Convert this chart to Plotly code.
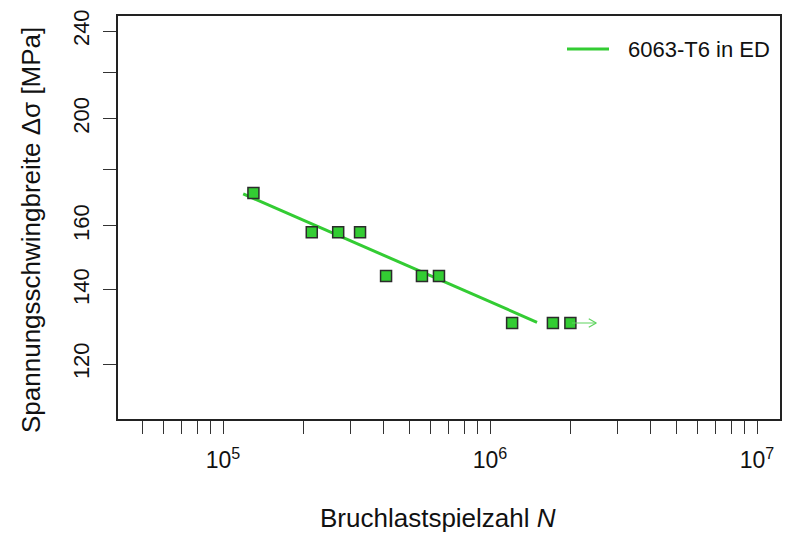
import numpy as np
import plotly.graph_objects as go

# ---- data ----
N_cycles = [1.30e5, 2.15e5, 2.70e5, 3.26e5, 4.08e5, 5.56e5, 6.44e5, 1.21e6, 1.72e6, 2.00e6]
stress_range = [171.3, 157.9, 157.9, 157.9, 144.1, 144.1, 144.1, 130.7, 130.7, 130.7]
runout_N = [2.00e6]
runout_S = [130.7]
runout_arrow_end_N = [2.50e6]
fit_N = [1.19e5, 1.50e6]
fit_S = [171.0, 130.9]
series_name = "6063-T6 in ED"

y_tick_vals = [120, 140, 160, 180, 200, 220, 240]
y_tick_text = ["120", "140", "160", "", "200", "", "240"]
x_tick_vals = [m * 10 ** e for e in (4, 5, 6) for m in range(1, 10)] + [1e7]
x_tick_text = [("10<sup>%d</sup>" % e) if m == 1 else "" for e in (4, 5, 6) for m in range(1, 10)] + ["10<sup>7</sup>"]

GREEN = "#33CC33"
ARROW = "#5fd45f"
FONT = "Arial, 'Liberation Sans', sans-serif"

fig = go.Figure()

fig.add_trace(go.Scatter(
    x=fit_N, y=fit_S, mode="lines", name=series_name,
    line=dict(color=GREEN, width=3), showlegend=False, hoverinfo="skip"))

# run-out arrow shaft + open chevron head
for n0, s0, n1 in zip(runout_N, runout_S, runout_arrow_end_N):
    fig.add_annotation(
        x=np.log10(n1), y=np.log10(s0), ax=np.log10(n0), ay=np.log10(s0),
        xref="x", yref="y", axref="x", ayref="y", text="", showarrow=True,
        arrowhead=0, arrowwidth=1.2, arrowcolor=ARROW)
    for dy in (-5, 5):
        fig.add_annotation(
            x=np.log10(n1), y=np.log10(s0), ax=-9, ay=dy,
            xref="x", yref="y", text="", showarrow=True,
            arrowhead=0, arrowwidth=1.2, arrowcolor=ARROW)

fig.add_trace(go.Scatter(
    x=N_cycles, y=stress_range, mode="markers", showlegend=False,
    marker=dict(symbol="square", size=11, color=GREEN,
                line=dict(color="#2b2b2b", width=1.5))))

# legend (manual, positioned like the reference)
fig.add_shape(type="line", xref="paper", yref="paper",
              x0=(567 - 118) / 662, x1=(609 - 118) / 662,
              y0=(419 - 49) / 403, y1=(419 - 49) / 403,
              line=dict(color=GREEN, width=3))
fig.add_annotation(xref="paper", yref="paper", x=(626 - 118) / 662, y=(419 - 49) / 403,
                   xanchor="left", yanchor="middle", text=series_name, showarrow=False,
                   font=dict(family=FONT, size=22, color="#111111"))

# axis titles
fig.add_annotation(xref="paper", yref="paper", x=(438 - 118) / 662, y=(419 - 518) / 403,
                   xanchor="center", yanchor="middle", showarrow=False,
                   text="Bruchlastspielzahl <i>N</i>",
                   font=dict(family=FONT, size=26, color="#111111"))
fig.add_annotation(xref="paper", yref="paper", x=(31 - 118) / 662, y=(419 - 230) / 403,
                   xanchor="center", yanchor="middle", showarrow=False, textangle=-90,
                   text="Spannungsschwingbreite Δσ [MPa]",
                   font=dict(family=FONT, size=26, color="#111111"))

fig.update_xaxes(
    type="log", range=[4.6067, 7.0861], automargin=False,
    tickmode="array", tickvals=x_tick_vals, ticktext=x_tick_text,
    ticks="outside", ticklen=13, tickwidth=1.3, tickcolor="#333333",
    showline=True, linecolor="#222222", linewidth=1.5, mirror=True,
    showgrid=False, zeroline=False, ticklabelstandoff=7,
    tickfont=dict(family=FONT, size=23, color="#111111"))
fig.update_yaxes(
    type="log", range=[2.0295, 2.3938], automargin=False,
    tickmode="array", tickvals=y_tick_vals, ticktext=y_tick_text,
    ticks="outside", ticklen=13, tickwidth=1.3, tickcolor="#333333", tickangle=-90,
    showline=True, linecolor="#222222", linewidth=1.5, mirror=True,
    showgrid=False, zeroline=False, ticklabelstandoff=5,
    tickfont=dict(family=FONT, size=22, color="#111111"))

fig.update_layout(
    width=787, height=534,
    margin=dict(l=118, r=7, t=16, b=115, autoexpand=False),
    plot_bgcolor="white", paper_bgcolor="white",
    font=dict(family=FONT), showlegend=False)

fig.write_html("out.html", config={"displayModeBar": False},
               post_script="document.body.style.margin='0';document.body.style.overflow='hidden';")
